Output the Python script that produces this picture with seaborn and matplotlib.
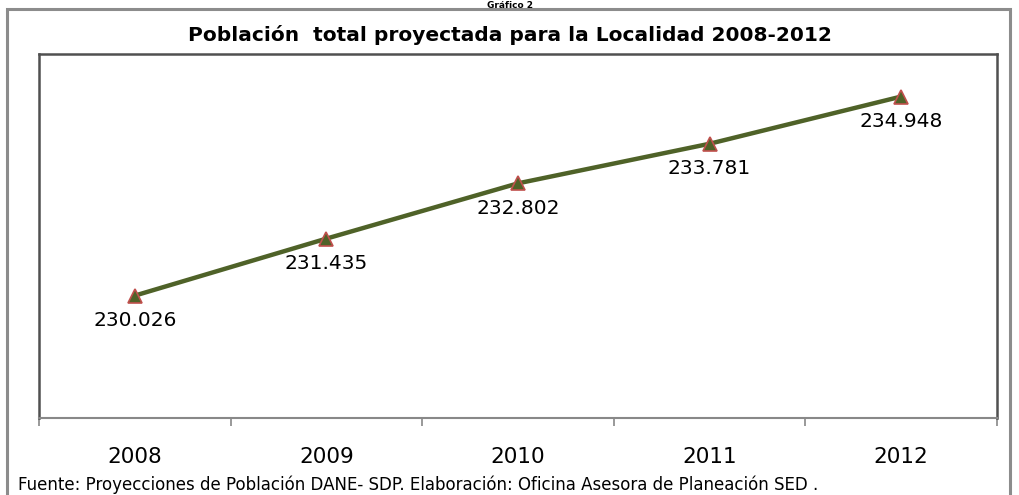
import pandas as pd
import seaborn as sns
import matplotlib
matplotlib.use('Agg')
import matplotlib.pyplot as plt
from matplotlib.patches import Rectangle

# data
years = ['2008', '2009', '2010', '2011', '2012']
poblacion = [230.026, 231.435, 232.802, 233.781, 234.948]
etiquetas = ['230.026', '231.435', '232.802', '233.781', '234.948']

df = pd.DataFrame({'year': years, 'poblacion': poblacion})
df['pos'] = range(len(df))

sns.set_style('white')
plt.rcParams['font.family'] = ['DejaVu Sans']
plt.rcParams['text.color'] = 'black'

W, H = 1020, 495
fig = plt.figure(figsize=(W / 100, H / 100), dpi=100)
ax = fig.add_axes([39 / W, (H - 418) / H, (997 - 39) / W, (418 - 54) / H])

sns.lineplot(data=df, x='pos', y='poblacion', ax=ax, color='#4f6228', linewidth=3.2,
             marker='^', markersize=10, markerfacecolor='#4f6228',
             markeredgecolor='#c0504d', markeredgewidth=1.2)

# value labels under each point
for i, row in df.iterrows():
    ax.annotate(etiquetas[i], (row['pos'], row['poblacion']), xytext=(0, -25),
                textcoords='offset pixels', ha='center', va='center',
                fontsize=14.5, color='black')

ax.set_xlim(-0.5, 4.5)
ax.set_ylim(227, 236)
ax.set_yticks([])
ax.set_xlabel('')
ax.set_ylabel('')

# ticks at category boundaries, labels centered
ax.set_xticks([b - 0.5 for b in range(len(years) + 1)])
ax.set_xticklabels([])
ax.set_xticks(df['pos'], minor=True)
ax.set_xticklabels(years, minor=True, fontsize=15.5, color='black')
ax.tick_params(axis='x', which='major', bottom=True, length=6, width=1.2,
               color='#888888', direction='out')
ax.tick_params(axis='x', which='minor', bottom=True, length=0, pad=21)

for s in ['top', 'left', 'right']:
    ax.spines[s].set_color('#505050')
    ax.spines[s].set_linewidth(1.8)
ax.spines['bottom'].set_color('#888888')
ax.spines['bottom'].set_linewidth(1.5)

# outer frame
fig.patches.append(Rectangle((7 / W, -0.1), (1010 - 7) / W, 1.1 - 9 / H, transform=fig.transFigure,
                             fill=False, edgecolor='#8c8c8c', linewidth=2.2))

fig.text(510 / W, 1 - 35 / H, 'Población  total proyectada para la Localidad 2008-2012',
         ha='center', va='center', fontsize=14.5, fontweight='bold', color='black')
fig.text(510 / W, 1 - 0.5 / H, 'Gráfico 2', ha='center', va='top', fontsize=6.5,
         fontweight='bold', color='black')
fig.text(18 / W, 1 - 494 / H, 'Fuente: Proyecciones de Población DANE- SDP. Elaboración: Oficina Asesora de Planeación SED .',
         ha='left', va='bottom', fontsize=12, color='black')

fig.savefig('out.png', dpi=100)
